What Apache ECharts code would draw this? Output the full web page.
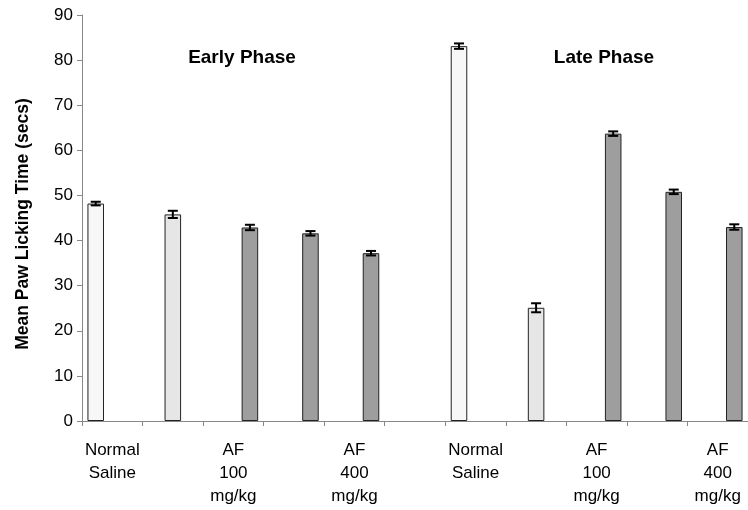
<!DOCTYPE html>
<html>
<head>
<meta charset="utf-8">
<script src="https://cdn.jsdelivr.net/npm/echarts@6/dist/echarts.min.js"></script>
<style>
html,body{margin:0;padding:0;background:#fff;}
#chart{width:748px;height:510px;}
</style>
</head>
<body>
<div id="chart"></div>
<script>
// ---- data ----
const categories = ['Normal\nSaline', '', 'AF\n100\nmg/kg', '', 'AF\n400\nmg/kg', '', 'Normal\nSaline', '', 'AF\n100\nmg/kg', '', 'AF\n400\nmg/kg'];
const earlyMeans = [48.2, 45.8, 42.9, 41.6, 37.2];
const earlyErrors = [0.4, 0.8, 0.6, 0.5, 0.5];
const lateMeans = [83.1, 25.1, 63.7, 50.8, 43.0];
const lateErrors = [0.6, 1.0, 0.5, 0.5, 0.6];
const earlyCategoryIndex = [0, 1, 2, 3, 4];
const lateCategoryIndex = [6, 7, 8, 9, 10];
const barGroup = [0, 1, 2, 2, 2]; // which bar series each treatment belongs to
const yTicks = [0, 10, 20, 30, 40, 50, 60, 70, 80, 90];
const phaseTitles = ['Early Phase', 'Late Phase'];
const yAxisTitle = 'Mean Paw Licking Time (secs)';

// ---- build ----
const FONT = 'Liberation Sans, Arial, sans-serif';
const fills = ['#f7f7f7', '#e6e6e6', '#9e9e9e'];
const nSeries = 3;
const catGap = 0.18;

const seriesData = [[], [], []];
for (let s = 0; s < nSeries; s++) for (let i = 0; i < categories.length; i++) seriesData[s].push('-');
const errData = [];
function addPhase(means, errs, cats) {
  means.forEach((v, i) => {
    const s = barGroup[i];
    seriesData[s][cats[i]] = v;
    errData.push([cats[i], v, errs[i], s]);
  });
}
addPhase(earlyMeans, earlyErrors, earlyCategoryIndex);
addPhase(lateMeans, lateErrors, lateCategoryIndex);

const series = seriesData.map((d, s) => ({
  type: 'bar',
  data: d,
  barGap: '0%',
  barCategoryGap: (catGap * 100) + '%',
  itemStyle: { color: fills[s], borderColor: '#222', borderWidth: 1 },
  emphasis: { disabled: true },
  silent: true
}));

series.push({
  type: 'custom',
  silent: true,
  z: 10,
  data: errData,
  renderItem: function (params, api) {
    const cat = api.value(0), v = api.value(1), e = api.value(2), s = api.value(3);
    const band = api.size([1, 0])[0];
    const bw = band * (1 - catGap) / nSeries;
    const off = -band * (1 - catGap) / 2 + bw * (s + 0.5);
    const top = api.coord([cat, v + e]);
    const bot = api.coord([cat, v - e]);
    const x = top[0] + off;
    const cw = 5;
    const st = { stroke: '#000', lineWidth: 2 };
    return {
      type: 'group',
      children: [
        { type: 'line', shape: { x1: x, y1: top[1], x2: x, y2: bot[1] }, style: st },
        { type: 'line', shape: { x1: x - cw, y1: top[1], x2: x + cw, y2: top[1] }, style: st },
        { type: 'line', shape: { x1: x - cw, y1: bot[1], x2: x + cw, y2: bot[1] }, style: st }
      ]
    };
  }
});

const chart = echarts.init(document.getElementById('chart'));
chart.setOption({
  animation: false,
  backgroundColor: '#fff',
  textStyle: { fontFamily: FONT },
  title: [
    { text: phaseTitles[0], left: 242, top: 48, textAlign: 'center', padding: 0,
      textStyle: { fontFamily: FONT, fontSize: 19, fontWeight: 'bold', color: '#000' } },
    { text: phaseTitles[1], left: 604, top: 48, textAlign: 'center', padding: 0,
      textStyle: { fontFamily: FONT, fontSize: 19, fontWeight: 'bold', color: '#000' } }
  ],
  grid: { left: 82, right: -4, top: 15, bottom: 89, containLabel: false },
  xAxis: {
    type: 'category',
    data: categories,
    axisLine: { lineStyle: { color: '#888', width: 1 } },
    axisTick: { show: true, interval: 0, length: 5, lineStyle: { color: '#888' } },
    axisLabel: { interval: 0, color: '#000', fontSize: 17, lineHeight: 23, margin: 18, fontFamily: FONT }
  },
  yAxis: {
    type: 'value',
    min: yTicks[0],
    max: yTicks[yTicks.length - 1],
    interval: 10,
    name: yAxisTitle,
    nameLocation: 'middle',
    nameGap: 50,
    nameTextStyle: { fontFamily: FONT, fontSize: 17.5, fontWeight: 'bold', color: '#000', padding: [0, 12, 0, 0] },
    axisLine: { show: true, lineStyle: { color: '#888', width: 1 } },
    axisTick: { show: true, length: 5, lineStyle: { color: '#888' } },
    splitLine: { show: false },
    axisLabel: { color: '#000', fontSize: 17, margin: 9, fontFamily: FONT }
  },
  series: series
});
</script>
</body>
</html>
